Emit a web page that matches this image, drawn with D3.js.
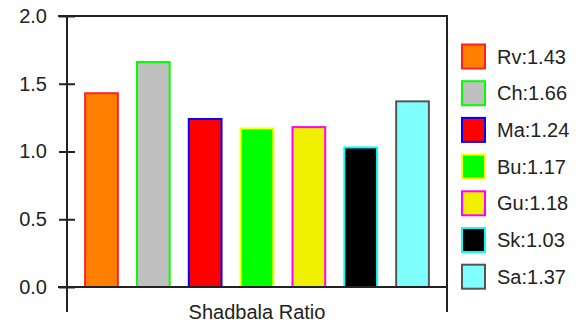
<!DOCTYPE html>
<html>
<head>
<meta charset="utf-8">
<script src="https://cdn.jsdelivr.net/npm/d3@7"></script>
<style>
  body { margin: 0; background: #fff; }
  text { font-family: "Liberation Sans", Arial, sans-serif; fill: #222; }
</style>
</head>
<body>
<svg class="chart"></svg>
<script>
const width = 581;
const height = 326;

const planets = ["Rv", "Ch", "Ma", "Bu", "Gu", "Sk", "Sa"];
const ratios = [1.43, 1.66, 1.24, 1.17, 1.18, 1.03, 1.37];
const fills = ["#ff8000", "#c0c0c0", "#ff0000", "#00ff00", "#f0f000", "#000000", "#80ffff"];
const strokes = ["#ff2020", "#00ff00", "#0000ff", "#ffff00", "#ff00ff", "#00ffff", "#555555"];
const yTicks = [0, 0.5, 1.0, 1.5, 2.0];
const axisLabel = "Shadbala Ratio";

const plot = { left: 67, right: 447, top: 16, bottom: 287, axisEnd: 312 };
const lineColor = "#222";

const svg = d3.select('.chart')
  .attr('width', width).attr('height', height);

const x = d3.scaleBand()
  .domain(planets)
  .range([plot.left, plot.right])
  .paddingInner(0.33)
  .paddingOuter(0.33);

const y = d3.scaleLinear()
  .domain([0, 2])
  .range([plot.bottom, plot.top]);

// bars
svg.append('g')
  .selectAll('rect')
  .data(planets)
  .enter()
  .append('rect')
  .attr('x', d => x(d) + 1)
  .attr('y', (d, i) => y(ratios[i]))
  .attr('width', x.bandwidth() - 2)
  .attr('height', (d, i) => y(0) - y(ratios[i]))
  .style('fill', (d, i) => fills[i])
  .style('stroke', (d, i) => strokes[i])
  .style('stroke-width', 2);

// y axis
const yAxis = svg.append('g')
  .attr('transform', `translate(${plot.left},0)`)
  .call(d3.axisLeft(y).tickValues(yTicks).tickFormat(d3.format('.1f')).tickSize(8).tickPadding(12));
yAxis.select('.domain').remove();
yAxis.selectAll('.tick line')
  .attr('x1', 8)
  .style('stroke', lineColor)
  .style('stroke-width', 2);
yAxis.selectAll('.tick text')
  .style('font-size', '20px')
  .style('fill', '#222')
  .attr('font-family', null);

// frame lines
const frame = svg.append('g')
  .style('stroke', lineColor)
  .style('stroke-width', 2);
frame.append('line')
  .attr('x1', plot.left - 9).attr('x2', plot.right + 1)
  .attr('y1', plot.top).attr('y2', plot.top);
frame.append('line')
  .attr('x1', plot.left - 9).attr('x2', plot.right + 1)
  .attr('y1', y(0)).attr('y2', y(0));
frame.append('line')
  .attr('x1', plot.left).attr('x2', plot.left)
  .attr('y1', plot.top - 1).attr('y2', plot.axisEnd);
frame.append('line')
  .attr('x1', plot.right).attr('x2', plot.right)
  .attr('y1', plot.top - 1).attr('y2', plot.axisEnd);

svg.append('text')
  .attr('x', (plot.left + plot.right) / 2)
  .attr('y', 319)
  .attr('text-anchor', 'middle')
  .style('font-size', '20px')
  .text(axisLabel);

// legend
const legend = svg.append('g')
  .selectAll('g')
  .data(planets)
  .enter()
  .append('g')
  .attr('transform', (d, i) => `translate(461,${43.5 + i * 36.7})`);

legend.append('rect')
  .attr('x', 1).attr('y', 1)
  .attr('width', 23).attr('height', 24)
  .style('fill', (d, i) => fills[i])
  .style('stroke', (d, i) => strokes[i])
  .style('stroke-width', 2);

legend.append('text')
  .attr('x', 36)
  .attr('y', 13)
  .attr('dy', '0.35em')
  .style('font-size', '20px')
  .text((d, i) => `${d}:${ratios[i].toFixed(2)}`);
</script>
</body>
</html>
